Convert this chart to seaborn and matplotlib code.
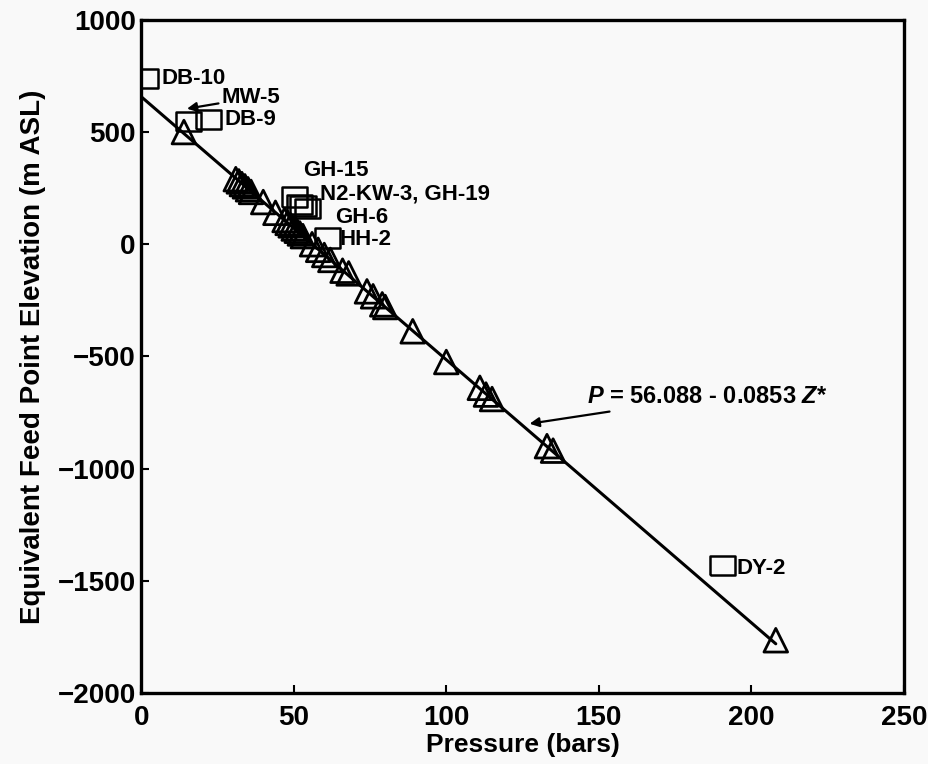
import matplotlib
matplotlib.use("Agg")
import matplotlib.pyplot as plt
import seaborn as sns
import numpy as np
import pandas as pd

# ---- data ----
tri_P = [14, 31, 32, 33, 34, 35, 36, 40, 44, 47, 48, 49, 50, 51, 52, 53, 56, 58,
         60, 62, 66, 68, 74, 76, 79, 80, 89, 100, 111, 113, 115, 133, 135, 208]
tri_Z = [500, 290, 280, 268, 258, 245, 233, 188, 140, 108, 95, 84, 70, 60, 48, 36, 0, -25,
         -48, -70, -118, -130, -210, -232, -268, -280, -388, -525, -640, -670, -690, -900, -920, -1765]

well_names = ["DB-10", "MW-5", "DB-9", "GH-15", "N2-KW-3", "GH-19", "GH-6", "HH-2", "DY-2"]
well_P = [1.5, 15.4, 22, 50.2, 51.8, 53, 54.4, 61, 190.5]
well_Z = [738, 548, 555, 210, 178, 170, 160, 27, -1432]

fit_intercept = 56.088
fit_slope = -0.0853
fit_P_range = [0, 208]

x_ticks = [0, 50, 100, 150, 200, 250]
y_ticks = [-2000, -1500, -1000, -500, 0, 500, 1000]

# ---- style ----
sns.set_style("white")
plt.rcParams["font.family"] = ["Liberation Sans", "DejaVu Sans"]
plt.rcParams["font.weight"] = "bold"
plt.rcParams["text.color"] = "black"
plt.rcParams["axes.labelcolor"] = "black"
plt.rcParams["xtick.color"] = "black"
plt.rcParams["ytick.color"] = "black"
plt.rcParams["mathtext.fontset"] = "custom"
plt.rcParams["mathtext.it"] = "Liberation Sans:italic:bold"
plt.rcParams["mathtext.rm"] = "Liberation Sans:bold"

bg = "#f9f9f9"
fig = plt.figure(figsize=(9.29, 7.64), dpi=100, facecolor=bg)
ax = fig.add_axes([0.152, 0.093, 0.821, 0.881])
ax.set_facecolor(bg)

# fit line
fit_Z = [(fit_intercept - p) / (-fit_slope) for p in fit_P_range]
sns.lineplot(x=fit_P_range, y=fit_Z, ax=ax, color="black", linewidth=2.2, zorder=2)

tri_df = pd.DataFrame({"P": tri_P, "Z": tri_Z})
sns.scatterplot(data=tri_df, x="P", y="Z", ax=ax, marker="^", s=290,
                facecolors="none", edgecolors="black", linewidths=2.0, zorder=3)

rect = [(-1.3, -1), (1.3, -1), (1.3, 1), (-1.3, 1), (-1.3, -1)]
well_df = pd.DataFrame({"P": well_P, "Z": well_Z})
sns.scatterplot(data=well_df, x="P", y="Z", ax=ax, marker=rect, s=330,
                facecolors="none", edgecolors="black", linewidths=1.8, zorder=3)

# labels
lab_fs = 16
kw = dict(fontsize=lab_fs, fontweight="bold", va="center", ha="left", color="black")
ax.text(6.7, 740, "DB-10", **kw)
ax.text(27.3, 557, "DB-9", **kw)
ax.annotate("MW-5", xy=(15.0, 604), xytext=(26.4, 652),
            arrowprops=dict(arrowstyle="-|>", color="black", lw=1.6, mutation_scale=14,
                            shrinkA=0, shrinkB=0), **kw)
ax.text(53, 330, "GH-15", **kw)
ax.text(58.5, 222, "N2-KW-3, GH-19", **kw)
ax.text(63.5, 118, "GH-6", **kw)
ax.text(65, 20, "HH-2", **kw)
ax.text(195.2, -1444, "DY-2", **kw)
ax.annotate(r"$P$ = 56.088 - 0.0853 $Z$*", xy=(127.3, -800), xytext=(146, -680),
            arrowprops=dict(arrowstyle="-|>", color="black", lw=1.6, mutation_scale=14,
                            shrinkA=0, shrinkB=0),
            **{**kw, "fontsize": 17})

ax.set_xlim(0, 250)
ax.set_ylim(-2000, 1000)
ax.set_xticks(x_ticks)
ax.set_yticks(y_ticks)
ax.set_xticklabels([str(t) for t in x_ticks])
ax.set_yticklabels([("\u2212" + str(-t)) if t < 0 else str(t) for t in y_ticks])
ax.tick_params(axis="both", direction="in", length=6, width=1.5, labelsize=20,
               bottom=True, left=True, top=False, right=False, colors="black")
ax.tick_params(axis="x", pad=9)
ax.tick_params(axis="y", pad=4)
for lbl in ax.get_xticklabels() + ax.get_yticklabels():
    lbl.set_fontweight("bold")
ax.set_xlabel("Pressure (bars)", fontsize=19, fontweight="bold", labelpad=1, color="black")
ax.set_ylabel("Equivalent Feed Point Elevation (m ASL)", fontsize=20, fontweight="bold",
              labelpad=8, color="black")
for sp in ax.spines.values():
    sp.set_visible(True)
    sp.set_linewidth(2.4)
    sp.set_color("black")

fig.savefig("out.png", dpi=100, facecolor=bg)
